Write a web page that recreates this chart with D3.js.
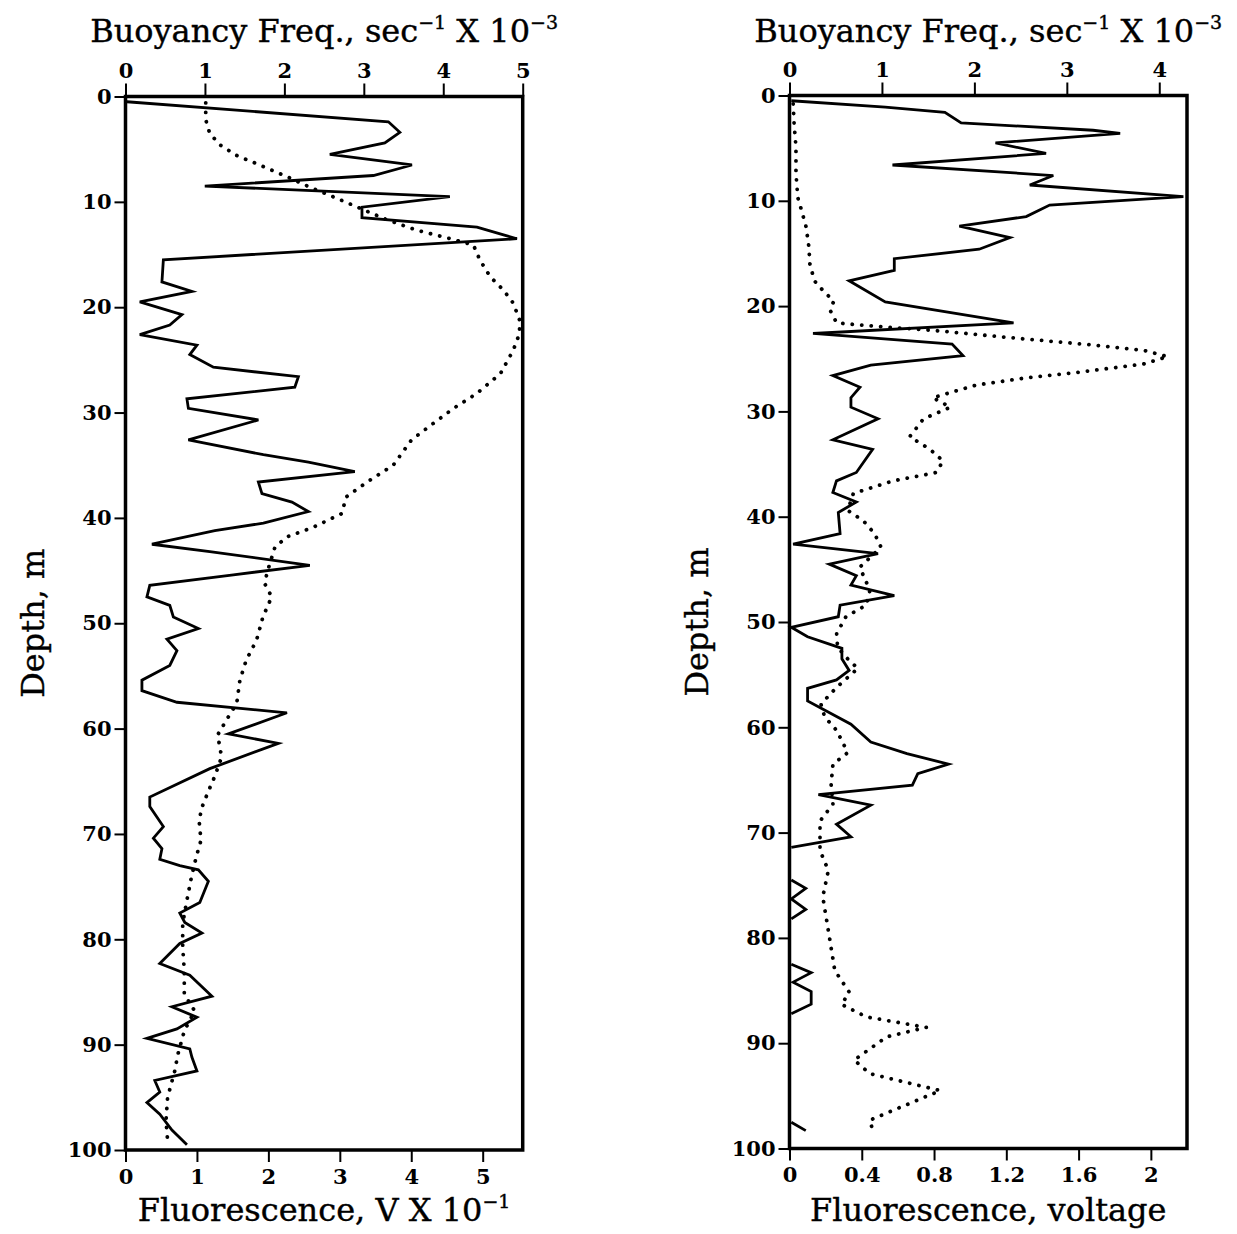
<!DOCTYPE html>
<html>
<head>
<meta charset="utf-8">
<script src="https://cdn.jsdelivr.net/npm/d3@7"></script>
<style>
  body { margin: 0; background: #fff; }
  .tick text { font-family: "DejaVu Serif", serif; font-weight: bold; font-size: 21px; fill: #000; }
  .tick line { stroke: #000; stroke-width: 2; }
  .axisTitle { font-family: "DejaVu Serif", serif; font-size: 32px; fill: #000; stroke: #000; stroke-width: 0.4; }
</style>
</head>
<body>
<div id="chart"></div>
<script>
// tick labels
var depthTicks = [0, 10, 20, 30, 40, 50, 60, 70, 80, 90, 100];
var leftFluorTicks = [0, 1, 2, 3, 4, 5];
var leftBuoyTicks = [0, 1, 2, 3, 4, 5];
var rightFluorTicks = [0, 0.4, 0.8, 1.2, 1.6, 2];
var rightBuoyTicks = [0, 1, 2, 3, 4];

// left panel: fluorescence (V x 10^-1), solid
var leftFluorDepth = [0.5, 2.4, 3.4, 4.4, 5.5, 6.5, 7.5, 8.5, 9.5, 10.5, 11.5, 12.4, 13.5, 15.5, 17.6, 18.5, 19.5, 20.7, 21.7, 22.6,
  23.6, 24.5, 25.7, 26.6, 27.6, 28.7, 29.6, 30.7, 32.6, 34.0, 34.7, 35.6, 36.6, 37.7, 38.5, 39.4, 40.5, 41.2, 42.5, 43.2,
  44.5, 45.4, 46.4, 47.5, 48.3, 49.4, 50.5, 51.5, 52.6, 54.0, 55.4, 56.4, 57.5, 58.5, 60.5, 61.4, 63.8, 66.5, 67.4, 69.3,
  70.4, 71.4, 72.4, 73.0, 73.4, 74.5, 76.5, 77.5, 78.4, 79.4, 80.4, 82.3, 83.4, 85.4, 86.4, 87.4, 88.5, 89.4, 90.4, 91.2,
  92.5, 93.4, 94.5, 95.5, 96.6, 98.1, 99.5];
var leftFluor = [0.02, 3.68, 3.84, 3.63, 2.86, 4.01, 3.47, 1.11, 4.54, 3.31, 3.31, 4.92, 5.48, 0.53, 0.51, 0.93, 0.2, 0.79, 0.62, 0.2,
  1.0, 0.9, 1.23, 2.42, 2.37, 0.86, 0.88, 1.86, 0.88, 1.93, 2.56, 3.21, 1.86, 1.91, 2.33, 2.56, 1.93, 1.25, 0.37, 1.18,
  2.58, 1.51, 0.34, 0.3, 0.62, 0.67, 1.02, 0.58, 0.72, 0.62, 0.23, 0.23, 0.72, 2.26, 1.44, 2.14, 1.18, 0.34, 0.34, 0.53,
  0.39, 0.51, 0.48, 0.76, 1.02, 1.16, 1.04, 0.76, 0.83, 1.07, 0.76, 0.48, 0.9, 1.21, 0.65, 1.0, 0.72, 0.3, 0.9, 0.93,
  1.0, 0.41, 0.48, 0.3, 0.48, 0.65, 0.86];

// left panel: buoyancy frequency (sec^-1 x 10^-3), dotted
var leftBuoyDepth = [0.6, 2.2, 3.5, 4.6, 5.6, 6.5, 7.6, 8.6, 9.5, 10.6, 11.7, 12.7, 13.5, 14.1, 15.5, 17.1, 18.4, 19.6, 21.2, 22.5,
  24.1, 26.3, 28.2, 29.6, 31.0, 32.6, 35.0, 36.6, 38.0, 39.6, 40.9, 41.8, 42.8, 45.0, 46.2, 47.5, 49.4, 51.6, 53.5, 55.4,
  57.6, 59.2, 60.6, 62.7, 64.6, 66.0, 67.7, 69.0, 70.6, 72.2, 74.1, 76.4, 78.5, 80.7, 83.0, 85.2, 86.8, 88.7, 90.9, 92.5,
  95.0, 97.2, 99.1];
var leftBuoy = [1.01, 1.01, 1.06, 1.19, 1.40, 1.69, 2.03, 2.32, 2.61, 2.95, 3.29, 3.67, 4.09, 4.38, 4.46, 4.59, 4.76, 4.88, 4.96, 4.96,
  4.88, 4.72, 4.42, 4.13, 3.88, 3.6, 3.37, 3.04, 2.78, 2.72, 2.36, 2.03, 1.88, 1.79, 1.75, 1.84, 1.73, 1.65, 1.52, 1.44,
  1.40, 1.27, 1.16, 1.21, 1.12, 1.04, 0.95, 0.93, 0.95, 0.89, 0.83, 0.77, 0.72, 0.72, 0.74, 0.74, 0.87, 0.74, 0.66, 0.62,
  0.53, 0.51, 0.53];

// right panel: fluorescence (voltage), solid, null = break in the trace
var rightFluorDepth = [0.5, 1.1, 1.6, 2.6, 3.3, 3.6, 4.5, 5.5, 6.6, 7.6, 8.5, 9.6, 10.4, 11.5, 12.4, 13.5, 14.6, 15.5, 16.6, 17.6,
  19.6, 21.6, 22.6, 23.6, 24.7, 25.6, 26.6, 27.7, 28.7, 29.6, 30.7, 32.7, 33.6, 35.8, 36.6, 37.7, 38.6, 39.6, 41.6, 42.6,
  43.5, 44.5, 45.6, 46.5, 47.5, 48.4, 49.5, 50.5, 51.4, 52.5, 53.5, 54.6, 55.5, 56.3, 57.5, 59.7, 61.4, 62.5, 63.5, 64.4,
  65.5, 66.4, 67.4, 69.2, 70.4, 71.4, 73.0, 74.5, 75.3, 76.3, 77.3, 78.2, 80.0, 82.5, 83.3, 84.2, 85.1, 86.3, 87.2, 92.0,
  97.5, 98.3];
var rightFluor = [0.01, 0.53, 0.86, 0.95, 1.68, 1.83, 1.14, 1.42, 0.57, 1.46, 1.33, 2.18, 1.44, 1.31, 0.94, 1.22, 1.05, 0.58, 0.58, 0.33,
  0.53, 1.24, 0.13, 0.90, 0.96, 0.45, 0.24, 0.39, 0.34, 0.34, 0.49, 0.24, 0.46, 0.37, 0.26, 0.24, 0.37, 0.27, 0.28, 0.02,
  0.49, 0.22, 0.37, 0.34, 0.58, 0.28, 0.27, 0.01, 0.10, 0.29, 0.29, 0.33, 0.26, 0.10, 0.10, 0.34, 0.45, 0.65, 0.88, 0.71,
  0.68, 0.16, 0.45, 0.26, 0.34, 0.01, null, 0.01, 0.09, 0.01, 0.09, 0.01, null, 0.01, 0.12, 0.02, 0.12, 0.12, 0.01, null,
  0.01, 0.09];

// right panel: buoyancy frequency (sec^-1 x 10^-3), dotted
var rightBuoyDepth = [0.8, 2.7, 4.9, 7.4, 9.7, 10.9, 12.5, 14.4, 16.0, 17.6, 18.7, 19.5, 20.4, 21.6, 22.0, 22.3, 23.0, 23.7, 24.2, 24.8,
  25.5, 26.3, 26.8, 27.5, 28.7, 29.6, 30.7, 32.4, 33.6, 34.7, 35.8, 36.6, 37.8, 39.4, 40.4, 41.6, 42.9, 44.8, 47.0, 48.4,
  49.5, 51.1, 52.4, 53.7, 54.4, 56.2, 57.8, 59.0, 60.3, 62.4, 63.5, 65.4, 67.3, 68.9, 71.7, 73.6, 76.1, 79.3, 83.1, 85.2,
  86.3, 87.5, 88.5, 89.4, 91.6, 92.9, 94.5, 97.3, 98.3];
var rightBuoy = [0.04, 0.05, 0.07, 0.07, 0.09, 0.13, 0.18, 0.21, 0.22, 0.27, 0.38, 0.48, 0.44, 0.51, 1.05, 1.55, 2.39, 3.29, 3.83, 4.09,
  3.83, 3.11, 2.57, 2.02, 1.55, 1.74, 1.45, 1.30, 1.52, 1.66, 1.59, 1.12, 0.69, 0.63, 0.80, 0.92, 0.99, 0.76, 0.87, 0.83,
  0.61, 0.51, 0.52, 0.65, 0.74, 0.51, 0.34, 0.38, 0.51, 0.63, 0.47, 0.45, 0.47, 0.33, 0.33, 0.42, 0.36, 0.42, 0.49, 0.65,
  0.56, 0.83, 1.48, 1.05, 0.70, 0.87, 1.63, 0.87, 0.90];

var svg = d3.select("#chart")
  .append("svg")
  .attr("width", 1237)
  .attr("height", 1234);

function pairs(depths, values) {
  return depths.map(function(d, i) { return { depth: d, v: values[i] }; });
}

// text with superscript pieces: [text, isSup]
function addTitle(g, x, y, parts, transform) {
  var t = g.append("text")
    .attr("class", "axisTitle")
    .attr("x", x)
    .attr("y", y)
    .attr("text-anchor", "middle");
  if (transform) t.attr("transform", transform);
  var raised = false;
  parts.forEach(function(p) {
    var sp = t.append("tspan").text(p[0]);
    if (p[1]) {
      sp.attr("dy", -13).attr("font-size", 19);
      raised = true;
    } else if (raised) {
      sp.attr("dy", 13);
      raised = false;
    }
  });
  return t;
}

function drawPanel(p) {
  var g = svg.append("g");

  var x = d3.scaleLinear().domain([0, p.fluorMax]).range([p.left, p.right]);
  var xTop = d3.scaleLinear().domain([0, p.buoyMax]).range([p.left, p.right]);
  var y = d3.scaleLinear().domain([0, 100]).range([p.top, p.bottom]);

  // axes
  var topAxis = g.append("g")
    .attr("transform", `translate(0, ${p.top})`)
    .call(d3.axisTop(xTop).tickValues(p.buoyTicks).tickSize(13).tickPadding(6).tickFormat(d3.format("~g")));
  var bottomAxis = g.append("g")
    .attr("transform", `translate(0, ${p.bottom})`)
    .call(d3.axisBottom(x).tickValues(p.fluorTicks).tickSize(12).tickPadding(7).tickFormat(d3.format("~g")));
  var leftAxis = g.append("g")
    .attr("transform", `translate(${p.left}, 0)`)
    .call(d3.axisLeft(y).tickValues(depthTicks).tickSize(11).tickPadding(3));
  [topAxis, bottomAxis, leftAxis].forEach(function(a) {
    a.select(".domain").remove();
    a.attr("font-family", null).attr("font-size", null);
  });

  // lines
  var line = d3.line()
    .defined(function(d) { return d.v != null; })
    .x(function(d) { return x(d.v); })
    .y(function(d) { return y(d.depth); });
  var lineTop = d3.line()
    .x(function(d) { return xTop(d.v); })
    .y(function(d) { return y(d.depth); });

  g.append("path")
    .datum(pairs(p.buoyDepth, p.buoy))
    .attr("d", lineTop)
    .attr("fill", "none")
    .attr("stroke", "#000")
    .attr("stroke-width", 3.8)
    .attr("stroke-linecap", "round")
    .attr("stroke-dasharray", "0.1 9.4");

  g.append("path")
    .datum(pairs(p.fluorDepth, p.fluor))
    .attr("d", line)
    .attr("fill", "none")
    .attr("stroke", "#000")
    .attr("stroke-width", 2.8)
    .attr("stroke-linejoin", "miter");

  // frame
  g.append("rect")
    .attr("x", p.left)
    .attr("y", p.top)
    .attr("width", p.right - p.left)
    .attr("height", p.bottom - p.top)
    .attr("fill", "none")
    .attr("stroke", "#000")
    .attr("stroke-width", 3.5);

  // titles
  var cx = (p.left + p.right) / 2;
  addTitle(g, cx, 42, [["Buoyancy Freq., sec", false], ["\u22121", true], [" X 10", false], ["\u22123", true]]);
  addTitle(g, cx, 1221, p.bottomTitle);
  addTitle(g, 0, 0, [["Depth, m", false]], `translate(${p.left - 82}, ${(p.top + p.bottom) / 2}) rotate(-90)`);
}

drawPanel({
  left: 125.5, right: 522.7, top: 96.5, bottom: 1150,
  fluorMax: 5.56, buoyMax: 5,
  fluorTicks: leftFluorTicks, buoyTicks: leftBuoyTicks,
  fluorDepth: leftFluorDepth, fluor: leftFluor,
  buoyDepth: leftBuoyDepth, buoy: leftBuoy,
  bottomTitle: [["Fluorescence, V X 10", false], ["\u22121", true]]
});

drawPanel({
  left: 789.5, right: 1187, top: 95.5, bottom: 1148.5,
  fluorMax: 2.2, buoyMax: 4.3,
  fluorTicks: rightFluorTicks, buoyTicks: rightBuoyTicks,
  fluorDepth: rightFluorDepth, fluor: rightFluor,
  buoyDepth: rightBuoyDepth, buoy: rightBuoy,
  bottomTitle: [["Fluorescence, voltage", false]]
});
</script>
</body>
</html>
